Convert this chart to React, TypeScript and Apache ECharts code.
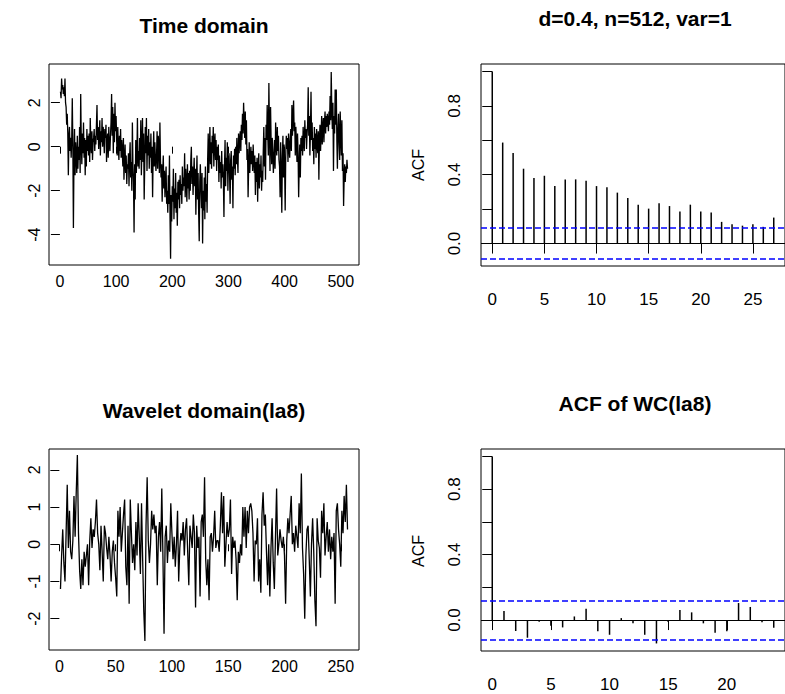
import React, { useEffect, useRef } from "react";
import * as echarts from "echarts";

const FONT = "'Liberation Sans', Arial, sans-serif";

const titles = ["Time domain", "d=0.4, n=512, var=1", "Wavelet domain(la8)", "ACF of WC(la8)"];

// Time-domain series (n = 512)
const tdValues: number[] = [
  2.5, 2.2, 3.1, 2.6, 2.8, 2.4, 2.7, 2.3, 3.1, 2.0,
  1.8, 1.0, 1.5, 0.6, -1.3, 0.5, 0.9, -0.2, 0.4, -0.5,
  0.3, 2.2, 0.1, -3.7, -0.6, 0.8, -1.3, 0.2, -0.4, -1.2,
  0.5, -1.0, 0.0, -0.6, 0.9, -1.2, 2.4, 0.2, -0.8, 0.6,
  -0.3, 1.1, -0.5, 0.4, -1.3, 0.3, -0.9, 0.8, -0.2, 0.5,
  -0.4, 0.6, -0.7, 1.3, 0.1, -0.3, 0.7, -0.6, 0.2, 0.4,
  0.8, -0.2, 0.5, 0.1, 1.0, 1.9, 0.3, 0.9, -0.1, 0.6,
  1.2, -0.4, 0.7, 0.2, 1.3, 0.0, 0.9, 0.5, -0.3, 0.8,
  0.4, 1.0, -0.7, 0.3, 0.6, -0.5, 0.9, 0.1, -0.2, 0.5,
  1.1, 2.4, 0.5, 1.8, -0.3, 1.5, 0.2, 2.0, 0.7, 1.4,
  0.3, -0.4, 0.9, 0.0, -0.6, 0.5, -0.2, 0.8, -0.5, 0.3,
  -0.2, -0.9, 0.4, -1.5, -0.6, 0.1, -1.2, -0.4, -1.7, -0.8,
  -1.0, -0.3, -1.8, -0.5, 0.2, -1.4, -0.7, -2.0, 1.1, -0.9,
  -1.6, -3.9, -0.8, -2.4, 0.3, -1.2, -0.4, 1.3, -0.9, -0.2,
  -1.0, 0.4, -0.6, 1.2, -1.3, 0.0, 1.3, -0.7, 0.6, -2.4,
  -0.8, 0.9, -0.3, 1.3, -1.1, 0.5, -0.4, 0.8, -1.0, 0.2,
  -0.5, 0.6, -1.2, 0.0, -2.3, -0.3, 0.7, -0.9, 0.2, -0.6, -1.1,
  -0.4, 0.7, -1.0, 0.5, 0.1, -1.2, 1.1, -0.6, -1.4,
  -0.8, -2.5, -1.2, -0.4, -1.9, -1.1, -2.3, -1.5, -0.9, -2.6,
  -2.0, -3.0, -1.3, -2.6, -0.4, -3.2, -5.1, -2.2, -3.4, -1.8,
  -2.5, -1.0, -3.3, -1.9, -2.8, -1.2, -3.0, -2.1, -3.6, -1.6,
  -2.4, -1.5, -2.8, -1.3, -2.2, -1.7, -2.6, -0.9, -2.0, -1.4,
  -1.8, -0.3, -2.3, -1.0, -1.6, -2.5, -0.8, -1.9, -1.2, -2.4,
  -1.1, -2.0, -0.6, 0.0, -1.7, -0.9, -2.2, -1.3, -0.5, -1.8,
  -1.0, -3.1, -1.5, -0.4, -2.4, -1.2, -3.0, -4.3, -1.6, -0.8,
  -1.9, -2.8, -1.2, -4.4, -2.0, -2.9, -1.4, -3.3, -0.9, -2.5,
  -1.7, -3.0, -0.6, 0.6, -1.2, -0.2, 0.9, -0.8, 0.2, -1.0,
  0.5, -0.3, 0.9, -0.9, 0.2, 0.6, -0.6, 0.3, -1.1, 0.0,
  -0.6, 0.1, -1.6, -0.4, -1.2, -0.7, -1.9, -0.2, -1.4, -0.8,
  -1.5, -3.2, -0.9, 0.3, -1.8, -0.5, -1.1, 0.2, -2.0, -0.7,
  -0.3, -1.2, -2.6, -0.6, -0.2, -1.5, -0.9, -2.8, -0.4, -1.0,
  -0.1, -1.3, 0.0, -0.8, 0.4, -0.5, -1.2, 0.6, -0.3, 0.3,
  0.7, -0.2, 1.0, 0.3, 1.5, 0.6, 2.0, 1.1, 0.4, 1.6,
  0.1, 1.2, -0.6, -0.1, -2.3, -0.9, 0.2, -1.2, -0.5, 0.0,
  -0.8, -0.2, -1.1, 0.1, -0.6,
  -1.2, -0.4, -2.2, -0.7, -1.6,
  -0.5, -2.5, -1.0, -0.3, -1.9, -0.8, -1.4, -0.4, -2.0, -1.1,
  -1.6, -0.2, 0.9, -0.9, 0.4, -1.5, 1.0, 0.3, 1.9, 0.6,
  -0.4, 2.9, 0.8, -1.1, 1.8, 0.2, -0.8, 0.4, -0.3, -1.2,
  -0.5, 0.3, -1.0, 1.1, 0.2, -0.4, 0.9, -0.2, 0.5, -0.6,
  -0.9, -2.3, 0.2, -1.2, -3.0, -0.5, 0.5, -1.4, 0.1, -0.8,
  -2.9, -0.4, 0.5, -0.1, 0.4, -0.7, 0.6, 0.0, -0.5, 0.3,
  0.8, -0.2, 1.9, 0.5, 1.4, 2.1, 0.7, 1.1, -0.4, 0.9,
  0.2, -0.7, 0.6, -0.3, -2.3, -0.9, 0.1, -1.4, 0.4, -0.2,
  0.5, -0.4, 0.9, 0.2, -0.2, 1.2, 0.4, 0.8, -0.1, 0.6,
  1.0, 2.7, 0.5, 1.4, -0.4, 0.7, 2.5, 0.3, 1.1, -0.2,
  0.4, -0.8, 0.9, -0.1, 0.6, -0.5, 0.8, 0.2, -0.3, 0.7,
  -1.5, 0.3, 1.0, -0.2, 0.6, 1.4, 0.1, 0.9, 1.3, 0.2,
  1.1, 1.6, 0.6, 1.4, 0.9, 1.5, 1.2, 0.7, 1.6, 1.0,
  2.3, 1.2, 3.4, 1.7, 0.8, 2.0, -1.1, 1.4, 0.6, 2.6,
  1.0, 2.6, 0.3, -1.0, 0.8, 1.5, 0.2, -0.6, 1.6, 0.5,
  -0.4, 1.2, -1.1, -0.3, -2.7, -1.4, -0.8, -1.6, -0.9, -1.2, -0.6, -1.0,
];

// Wavelet-domain coefficients (n = 256)
const wcValues: number[] = [
  -1.2, -0.3, 0.4, -0.5, -1.0, 0.3, 1.6, -0.1, 0.9, -0.2,
  -0.4, 0.1, 1.3, 0.2, 1.4, 2.4, 0.3, -0.7, -1.2, -0.4,
  -1.1, -0.2, -0.6, -0.3, 0.0, -1.1, 0.1, 0.7, -0.1, 0.4,
  0.2, 0.6, 1.2, 0.3, 0.0, -0.7, 0.5, -0.2, -1.0, 0.5,
  0.3, -0.1, -0.4, 0.2, -0.3, -1.0, -0.2, 0.1, -0.5, -0.9,
  -1.4, 0.9, 0.2, 1.0, -0.2, 0.3, 0.8, 1.2, -0.6, -1.1,
  0.5, -1.6, 1.2, 0.3, -0.5, 0.0, -0.7, 0.6, -0.3, 1.1,
  0.2, -0.8, 1.1, -0.4, -1.8, -2.6, 0.5, 1.8, 0.1, -0.5,
  0.0, 0.9, 0.4, 0.8, 0.3, 0.5, -1.1, 0.2, 0.6, -0.2,
  1.5, -0.3, -2.4, 0.2, 0.5, -0.5, 0.1, -0.2, 1.1, 0.3,
  -0.4, 0.2, -0.6, 0.0, 0.9, -1.0, -0.1, 0.3, 0.1, 0.6,
  -0.3, 0.4, 0.7, -0.2, -1.1, 0.5, 0.2, -0.1, 0.8, 0.3,
  -1.7, 0.5, -0.1, 0.2, -1.4, 0.6, 0.8, 0.2, 1.8, -0.4,
  -1.1, -0.4, -1.5, 0.2, 0.3, -0.2, 0.2, 0.9, -0.1, 0.1,
  0.1, -0.2, 0.5, 1.4, 0.3, 1.3, -0.6, 0.0, 0.6, 0.2,
  0.4, 1.2, -0.8, 0.2, -0.1, 0.1, -0.4, -1.5, -0.2, -0.5,
  0.0, -0.3, 1.0, 0.2, 1.0, -0.1, 0.9, 0.3, 1.0, 1.1,
  0.9, 0.3, -1.0, 0.1, 0.0, 0.7, -1.0, -0.4, -1.3, 0.8,
  1.4, 0.5, 0.8, -0.2, -1.1, 0.0, -1.4, -0.1, 0.7, -0.5,
  -1.2, 0.2, 1.5, -0.3, 0.0, 0.4, 0.1, -0.1, 0.2, -0.3,
  -1.6, 0.1, 0.7, 0.3, 0.8, 1.3, 0.0, 0.3, -0.2, 0.5,
  0.2, -0.1, 1.1, 0.3, 1.9, -0.1, -0.8, -2.0, -0.3, 0.4,
  0.5, -0.4, -1.4, 0.0, 0.7, -0.2, -1.5, -2.2, 0.7, 0.1,
  -0.1, -0.9, 0.9, 0.3, 1.1, -0.3, 0.2, 0.6, -0.2, 0.4,
  -0.4, 0.2, -0.2, 0.3, -1.6, 0.9, 1.1, 0.4, 0.0, -0.6,
  0.9, 0.3, 1.3, 0.6, 1.6, 0.4,
];

// Sample ACF of the time-domain series, lags 0..27
const acfTD: number[] = [
  1.0, 0.587, 0.526, 0.435, 0.381, 0.394, 0.334, 0.373, 0.373, 0.365,
  0.334, 0.327, 0.296, 0.265, 0.226, 0.203, 0.234, 0.218, 0.187, 0.226,
  0.187, 0.18, 0.126, 0.112, 0.104, 0.112, 0.097, 0.151,
];
// Sample ACF of the wavelet coefficients, lags 0..24
const acfWC: number[] = [
  1.0, 0.055, -0.067, -0.108, -0.01, -0.035, -0.045, 0.022, 0.069, -0.069,
  -0.09, 0.012, -0.02, -0.09, -0.143, -0.012, 0.061, 0.047, -0.02, -0.078,
  -0.069, 0.104, 0.08, -0.014, -0.047,
];
const ciTD = 0.0866;
const ciWC = 0.1225;

const tdXTicks = [0, 100, 200, 300, 400, 500];
const tdYTicks = [-4, -2, 0, 2];
const wcXTicks = [0, 50, 100, 150, 200, 250];
const wcYTicks = [-2, -1, 0, 1, 2];
const acfTDXTicks = [0, 5, 10, 15, 20, 25];
const acfWCXTicks = [0, 5, 10, 15, 20];
const acfYTicks = [0, 0.2, 0.4, 0.6, 0.8, 1.0];
const acfYLabels = [0, 0.4, 0.8];

function xAxis(gridIndex: number, min: number, max: number, ticks: number[], margin: number, tickLen: number, fontSize: number) {
  return {
    type: "value", gridIndex, min, max,
    axisLine: { show: false },
    splitLine: { show: false },
    axisTick: { show: true, length: tickLen, customValues: ticks, lineStyle: { color: "#000", width: 1 } },
    axisLabel: { show: true, customValues: ticks, margin, color: "#000", fontFamily: FONT, fontSize, formatter: (v: number) => String(v) },
  };
}

function yAxis(gridIndex: number, min: number, max: number, ticks: number[], labels: number[], margin: number, tickLen: number, fontSize: number, dec: number) {
  return {
    type: "value", gridIndex, min, max,
    axisLine: { show: false },
    splitLine: { show: false },
    axisTick: { show: true, length: tickLen, customValues: ticks, lineStyle: { color: "#000", width: 1 } },
    axisLabel: { show: true, customValues: labels, rotate: 90, margin, color: "#000", fontFamily: FONT, fontSize, formatter: (v: number) => v.toFixed(dec) },
  };
}

function ciLines(ci: number) {
  return {
    silent: true,
    symbol: ["none", "none"],
    label: { show: false },
    emphasis: { disabled: true },
    data: [
      { yAxis: 0, lineStyle: { color: "#000", type: "solid", width: 1 } },
      { yAxis: ci, lineStyle: { color: "#0000ff", type: [6, 3], width: 1.5 } },
      { yAxis: -ci, lineStyle: { color: "#0000ff", type: [6, 3], width: 1.5 } },
    ],
  };
}

export default function App() {
  const ref = useRef<HTMLDivElement>(null);
  useEffect(() => {
    document.body.style.margin = "0";
    const chart = echarts.init(ref.current!, null, { renderer: "svg" });
    const gridStyle = { show: true, borderColor: "#000", borderWidth: 1, backgroundColor: "transparent" };
    const titleText = (text: string, x: number, y: number) => ({
      type: "text", x, y, silent: true,
      style: { text, fill: "#000", font: `bold 21px ${FONT}`, align: "center", verticalAlign: "middle" },
    });
    const acfLabel = (x: number, y: number) => ({
      type: "text", x, y, rotation: Math.PI / 2, silent: true,
      style: { text: "ACF", fill: "#000", font: `16px ${FONT}`, align: "center", verticalAlign: "middle" },
    });
    const option = {
      animation: false,
      backgroundColor: "#fff",
      grid: [
        { left: 49, top: 64, width: 310, height: 201, ...gridStyle },
        { left: 481, top: 64, width: 309, height: 202, ...gridStyle },
        { left: 49, top: 449, width: 310, height: 201, ...gridStyle },
        { left: 481, top: 449, width: 309, height: 202, ...gridStyle },
      ],
      xAxis: [
        xAxis(0, -19.44, 532.44, tdXTicks, 8, 7, 16),
        xAxis(1, -1.08, 28.08, acfTDXTicks, 25, 10, 17),
        xAxis(2, -9.2, 266.2, wcXTicks, 8, 7, 16),
        xAxis(3, -0.96, 24.96, acfWCXTicks, 25, 10, 17),
      ],
      yAxis: [
        yAxis(0, -5.38, 3.76, tdYTicks, tdYTicks, 7, 9, 16, 0),
        yAxis(1, -0.1304, 1.0435, acfYTicks, acfYLabels, 18, 10, 17, 1),
        yAxis(2, -2.84, 2.56, wcYTicks, wcYTicks, 7, 9, 16, 0),
        yAxis(3, -0.1892, 1.0457, acfYTicks, acfYLabels, 18, 10, 17, 1),
      ],
      series: [
        {
          type: "line", xAxisIndex: 0, yAxisIndex: 0, silent: true,
          data: tdValues.map((v, i) => [i + 1, v]),
          symbol: "none", lineStyle: { color: "#000", width: 1.3 },
        },
        {
          type: "bar", xAxisIndex: 1, yAxisIndex: 1, silent: true,
          data: acfTD.map((v, i) => [i, v]),
          barWidth: 1.5, itemStyle: { color: "#000" },
          markLine: ciLines(ciTD),
        },
        {
          type: "line", xAxisIndex: 2, yAxisIndex: 2, silent: true,
          data: wcValues.map((v, i) => [i + 1, v]),
          symbol: "none", lineStyle: { color: "#000", width: 1.3 },
        },
        {
          type: "bar", xAxisIndex: 3, yAxisIndex: 3, silent: true,
          data: acfWC.map((v, i) => [i, v]),
          barWidth: 1.5, itemStyle: { color: "#000" },
          markLine: ciLines(ciWC),
        },
      ],
      graphic: [
        titleText(titles[0], 204, 25),
        titleText(titles[1], 635, 18),
        titleText(titles[2], 204, 410),
        titleText(titles[3], 635, 403),
        acfLabel(418, 165),
        acfLabel(418, 551),
      ],
    };
    chart.setOption(option as any);
    return () => chart.dispose();
  }, []);
  return <div ref={ref} style={{ width: 785, height: 694 }} />;
}
